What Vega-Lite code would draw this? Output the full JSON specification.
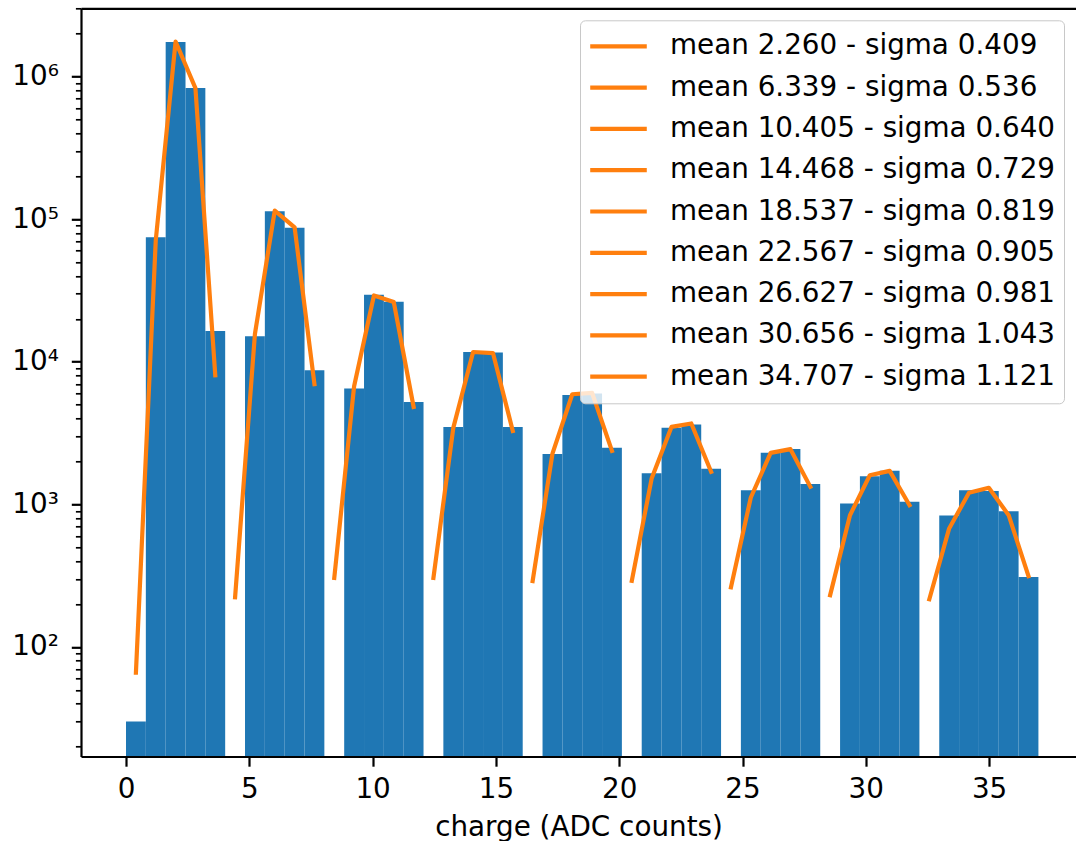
{
  "$schema": "https://vega.github.io/schema/vega-lite/v6.json",
  "autosize": {"type": "none"},
  "padding": {"left": 81, "top": 8.3, "right": 0, "bottom": 84.5},
  "width": 995,
  "height": 748.2,
  "background": "white",
  "datasets": {
    "bars": [
      {"bin_start": 0.0, "bin_end": 0.8043, "count": 30},
      {"bin_start": 0.8043, "bin_end": 1.6087, "count": 74700},
      {"bin_start": 1.6087, "bin_end": 2.413, "count": 1750000},
      {"bin_start": 2.413, "bin_end": 3.2174, "count": 830000},
      {"bin_start": 3.2174, "bin_end": 4.0217, "count": 16400},
      {"bin_start": 4.8261, "bin_end": 5.6304, "count": 15070},
      {"bin_start": 5.6304, "bin_end": 6.4348, "count": 113500},
      {"bin_start": 6.4348, "bin_end": 7.2391, "count": 86900},
      {"bin_start": 7.2391, "bin_end": 8.0435, "count": 8710},
      {"bin_start": 8.8478, "bin_end": 9.6522, "count": 6480},
      {"bin_start": 9.6522, "bin_end": 10.4565, "count": 29500},
      {"bin_start": 10.4565, "bin_end": 11.2609, "count": 26360},
      {"bin_start": 11.2609, "bin_end": 12.0652, "count": 5220},
      {"bin_start": 12.8696, "bin_end": 13.6739, "count": 3490},
      {"bin_start": 13.6739, "bin_end": 14.4783, "count": 11700},
      {"bin_start": 14.4783, "bin_end": 15.2826, "count": 11600},
      {"bin_start": 15.2826, "bin_end": 16.087, "count": 3490},
      {"bin_start": 16.8913, "bin_end": 17.6957, "count": 2250},
      {"bin_start": 17.6957, "bin_end": 18.5, "count": 5850},
      {"bin_start": 18.5, "bin_end": 19.3043, "count": 6000},
      {"bin_start": 19.3043, "bin_end": 20.1087, "count": 2490},
      {"bin_start": 20.913, "bin_end": 21.7174, "count": 1650},
      {"bin_start": 21.7174, "bin_end": 22.5217, "count": 3450},
      {"bin_start": 22.5217, "bin_end": 23.3261, "count": 3630},
      {"bin_start": 23.3261, "bin_end": 24.1304, "count": 1780},
      {"bin_start": 24.9348, "bin_end": 25.7391, "count": 1256},
      {"bin_start": 25.7391, "bin_end": 26.5435, "count": 2300},
      {"bin_start": 26.5435, "bin_end": 27.3478, "count": 2440},
      {"bin_start": 27.3478, "bin_end": 28.1522, "count": 1390},
      {"bin_start": 28.9565, "bin_end": 29.7609, "count": 1014},
      {"bin_start": 29.7609, "bin_end": 30.5652, "count": 1575},
      {"bin_start": 30.5652, "bin_end": 31.3696, "count": 1718},
      {"bin_start": 31.3696, "bin_end": 32.1739, "count": 1042},
      {"bin_start": 32.9783, "bin_end": 33.7826, "count": 836},
      {"bin_start": 33.7826, "bin_end": 34.587, "count": 1256},
      {"bin_start": 34.587, "bin_end": 35.3913, "count": 1240},
      {"bin_start": 35.3913, "bin_end": 36.1957, "count": 896},
      {"bin_start": 36.1957, "bin_end": 37.0, "count": 310}
    ],
    "fits": [
      {"fit": "mean 2.260 - sigma 0.409", "x": 0.4022, "y": 66},
      {"fit": "mean 2.260 - sigma 0.409", "x": 1.2065, "y": 71000},
      {"fit": "mean 2.260 - sigma 0.409", "x": 2.0109, "y": 1760000},
      {"fit": "mean 2.260 - sigma 0.409", "x": 2.8152, "y": 830000},
      {"fit": "mean 2.260 - sigma 0.409", "x": 3.6196, "y": 8040},
      {"fit": "mean 6.339 - sigma 0.536", "x": 4.4239, "y": 223},
      {"fit": "mean 6.339 - sigma 0.536", "x": 5.2283, "y": 15700},
      {"fit": "mean 6.339 - sigma 0.536", "x": 6.0326, "y": 114800},
      {"fit": "mean 6.339 - sigma 0.536", "x": 6.837, "y": 87700},
      {"fit": "mean 6.339 - sigma 0.536", "x": 7.6413, "y": 6950},
      {"fit": "mean 10.405 - sigma 0.640", "x": 8.4457, "y": 305},
      {"fit": "mean 10.405 - sigma 0.640", "x": 9.25, "y": 6730},
      {"fit": "mean 10.405 - sigma 0.640", "x": 10.0543, "y": 29170},
      {"fit": "mean 10.405 - sigma 0.640", "x": 10.8587, "y": 26200},
      {"fit": "mean 10.405 - sigma 0.640", "x": 11.663, "y": 4820},
      {"fit": "mean 14.468 - sigma 0.729", "x": 12.4674, "y": 305},
      {"fit": "mean 14.468 - sigma 0.729", "x": 13.2717, "y": 3436},
      {"fit": "mean 14.468 - sigma 0.729", "x": 14.0761, "y": 11700},
      {"fit": "mean 14.468 - sigma 0.729", "x": 14.8804, "y": 11510},
      {"fit": "mean 14.468 - sigma 0.729", "x": 15.6848, "y": 3272},
      {"fit": "mean 18.537 - sigma 0.819", "x": 16.4891, "y": 290},
      {"fit": "mean 18.537 - sigma 0.819", "x": 17.2935, "y": 2270},
      {"fit": "mean 18.537 - sigma 0.819", "x": 18.0978, "y": 5916},
      {"fit": "mean 18.537 - sigma 0.819", "x": 18.9022, "y": 6040},
      {"fit": "mean 18.537 - sigma 0.819", "x": 19.7065, "y": 2371},
      {"fit": "mean 22.567 - sigma 0.905", "x": 20.5109, "y": 291},
      {"fit": "mean 22.567 - sigma 0.905", "x": 21.3152, "y": 1517},
      {"fit": "mean 22.567 - sigma 0.905", "x": 22.1196, "y": 3490},
      {"fit": "mean 22.567 - sigma 0.905", "x": 22.9239, "y": 3690},
      {"fit": "mean 22.567 - sigma 0.905", "x": 23.7283, "y": 1690},
      {"fit": "mean 26.627 - sigma 0.981", "x": 24.5326, "y": 262},
      {"fit": "mean 26.627 - sigma 0.981", "x": 25.337, "y": 1117},
      {"fit": "mean 26.627 - sigma 0.981", "x": 26.1413, "y": 2296},
      {"fit": "mean 26.627 - sigma 0.981", "x": 26.9457, "y": 2437},
      {"fit": "mean 26.627 - sigma 0.981", "x": 27.75, "y": 1328},
      {"fit": "mean 30.656 - sigma 1.043", "x": 28.5543, "y": 231},
      {"fit": "mean 30.656 - sigma 1.043", "x": 29.3587, "y": 839},
      {"fit": "mean 30.656 - sigma 1.043", "x": 30.163, "y": 1600},
      {"fit": "mean 30.656 - sigma 1.043", "x": 30.9674, "y": 1718},
      {"fit": "mean 30.656 - sigma 1.043", "x": 31.7717, "y": 986},
      {"fit": "mean 34.707 - sigma 1.121", "x": 32.5761, "y": 216},
      {"fit": "mean 34.707 - sigma 1.121", "x": 33.3804, "y": 678},
      {"fit": "mean 34.707 - sigma 1.121", "x": 34.1848, "y": 1205},
      {"fit": "mean 34.707 - sigma 1.121", "x": 34.9891, "y": 1306},
      {"fit": "mean 34.707 - sigma 1.121", "x": 35.7935, "y": 839},
      {"fit": "mean 34.707 - sigma 1.121", "x": 36.5978, "y": 314}
    ]
  },
  "layer": [
    {
      "data": {"name": "bars"},
      "mark": {"type": "bar", "color": "#1f77b4", "clip": true},
      "encoding": {
        "x": {
          "field": "bin_start", "type": "quantitative",
          "scale": {"domain": [-1.825, 38.524], "nice": false, "zero": false},
          "axis": {
            "orient": "bottom", "values": [0, 5, 10, 15, 20, 25, 30, 35],
            "title": "charge (ADC counts)", "domain": true, "ticks": true, "labels": true,
            "tickSize": 9.7, "tickWidth": 2.2, "labelPadding": 9, "titlePadding": 10,
            "labelFlush": false, "zindex": 1
          }
        },
        "x2": {"field": "bin_end"},
        "y": {
          "field": "count", "type": "quantitative",
          "scale": {"type": "log", "domain": [17.05, 3010000], "nice": false},
          "axis": {
            "orient": "left", "title": null, "labels": false, "domain": false,
            "tickSize": 5.6, "tickWidth": 1.7, "zindex": 1,
            "values": [20, 30, 40, 50, 60, 70, 80, 90, 200, 300, 400, 500, 600, 700, 800, 900, 2000, 3000, 4000, 5000, 6000, 7000, 8000, 9000, 20000, 30000, 40000, 50000, 60000, 70000, 80000, 90000, 200000, 300000, 400000, 500000, 600000, 700000, 800000, 900000, 2000000, 3000000]
          }
        },
        "y2": {"datum": 1}
      }
    },
    {
      "data": {"name": "fits"},
      "mark": {"type": "line", "strokeWidth": 4.2, "clip": true, "strokeJoin": "round", "strokeCap": "square"},
      "encoding": {
        "x": {
          "field": "x", "type": "quantitative",
          "scale": {"domain": [-1.825, 38.524], "nice": false, "zero": false},
          "axis": {"orient": "top", "title": null, "labels": false, "ticks": false, "domain": true, "zindex": 1}
        },
        "y": {
          "field": "y", "type": "quantitative",
          "scale": {"type": "log", "domain": [17.05, 3010000], "nice": false},
          "axis": {
            "orient": "left", "title": null, "values": [100, 1000, 10000, 100000, 1000000],
            "tickSize": 9.7, "tickWidth": 2.2, "labelPadding": 13, "domain": true, "zindex": 1,
            "labelExpr": "'10' + (datum.value == 100 ? '²' : datum.value == 1000 ? '³' : datum.value == 10000 ? '⁴' : datum.value == 100000 ? '⁵' : '⁶')"
          }
        },
        "color": {
          "field": "fit", "type": "nominal",
          "scale": {
            "domain": ["mean 2.260 - sigma 0.409", "mean 6.339 - sigma 0.536", "mean 10.405 - sigma 0.640", "mean 14.468 - sigma 0.729", "mean 18.537 - sigma 0.819", "mean 22.567 - sigma 0.905", "mean 26.627 - sigma 0.981", "mean 30.656 - sigma 1.043", "mean 34.707 - sigma 1.121"],
            "range": ["#ff7f0e", "#ff7f0e", "#ff7f0e", "#ff7f0e", "#ff7f0e", "#ff7f0e", "#ff7f0e", "#ff7f0e", "#ff7f0e"]
          },
          "legend": {
            "title": null, "orient": "top-right", "offset": 12,
            "symbolType": "stroke", "symbolStrokeWidth": 4.2, "symbolSize": 3200,
            "labelFont": "DejaVu Sans", "labelFontSize": 27.8, "labelColor": "black",
            "labelOffset": 21, "labelLimit": 0,
            "clipHeight": 36, "rowPadding": 5.3, "padding": 8,
            "fillColor": "rgba(255,255,255,0.8)", "strokeColor": "#c8c8c8",
            "cornerRadius": 5
          }
        }
      }
    }
  ],
  "resolve": {"axis": {"x": "independent", "y": "independent"}},
  "config": {
    "view": {"stroke": null},
    "axis": {
      "grid": false, "domainColor": "black", "domainWidth": 2.2, "tickColor": "black",
      "labelColor": "black", "labelFont": "DejaVu Sans", "labelFontSize": 27.8,
      "titleFont": "DejaVu Sans", "titleFontSize": 27.8, "titleFontWeight": "normal", "titleColor": "black"
    }
  }
}
